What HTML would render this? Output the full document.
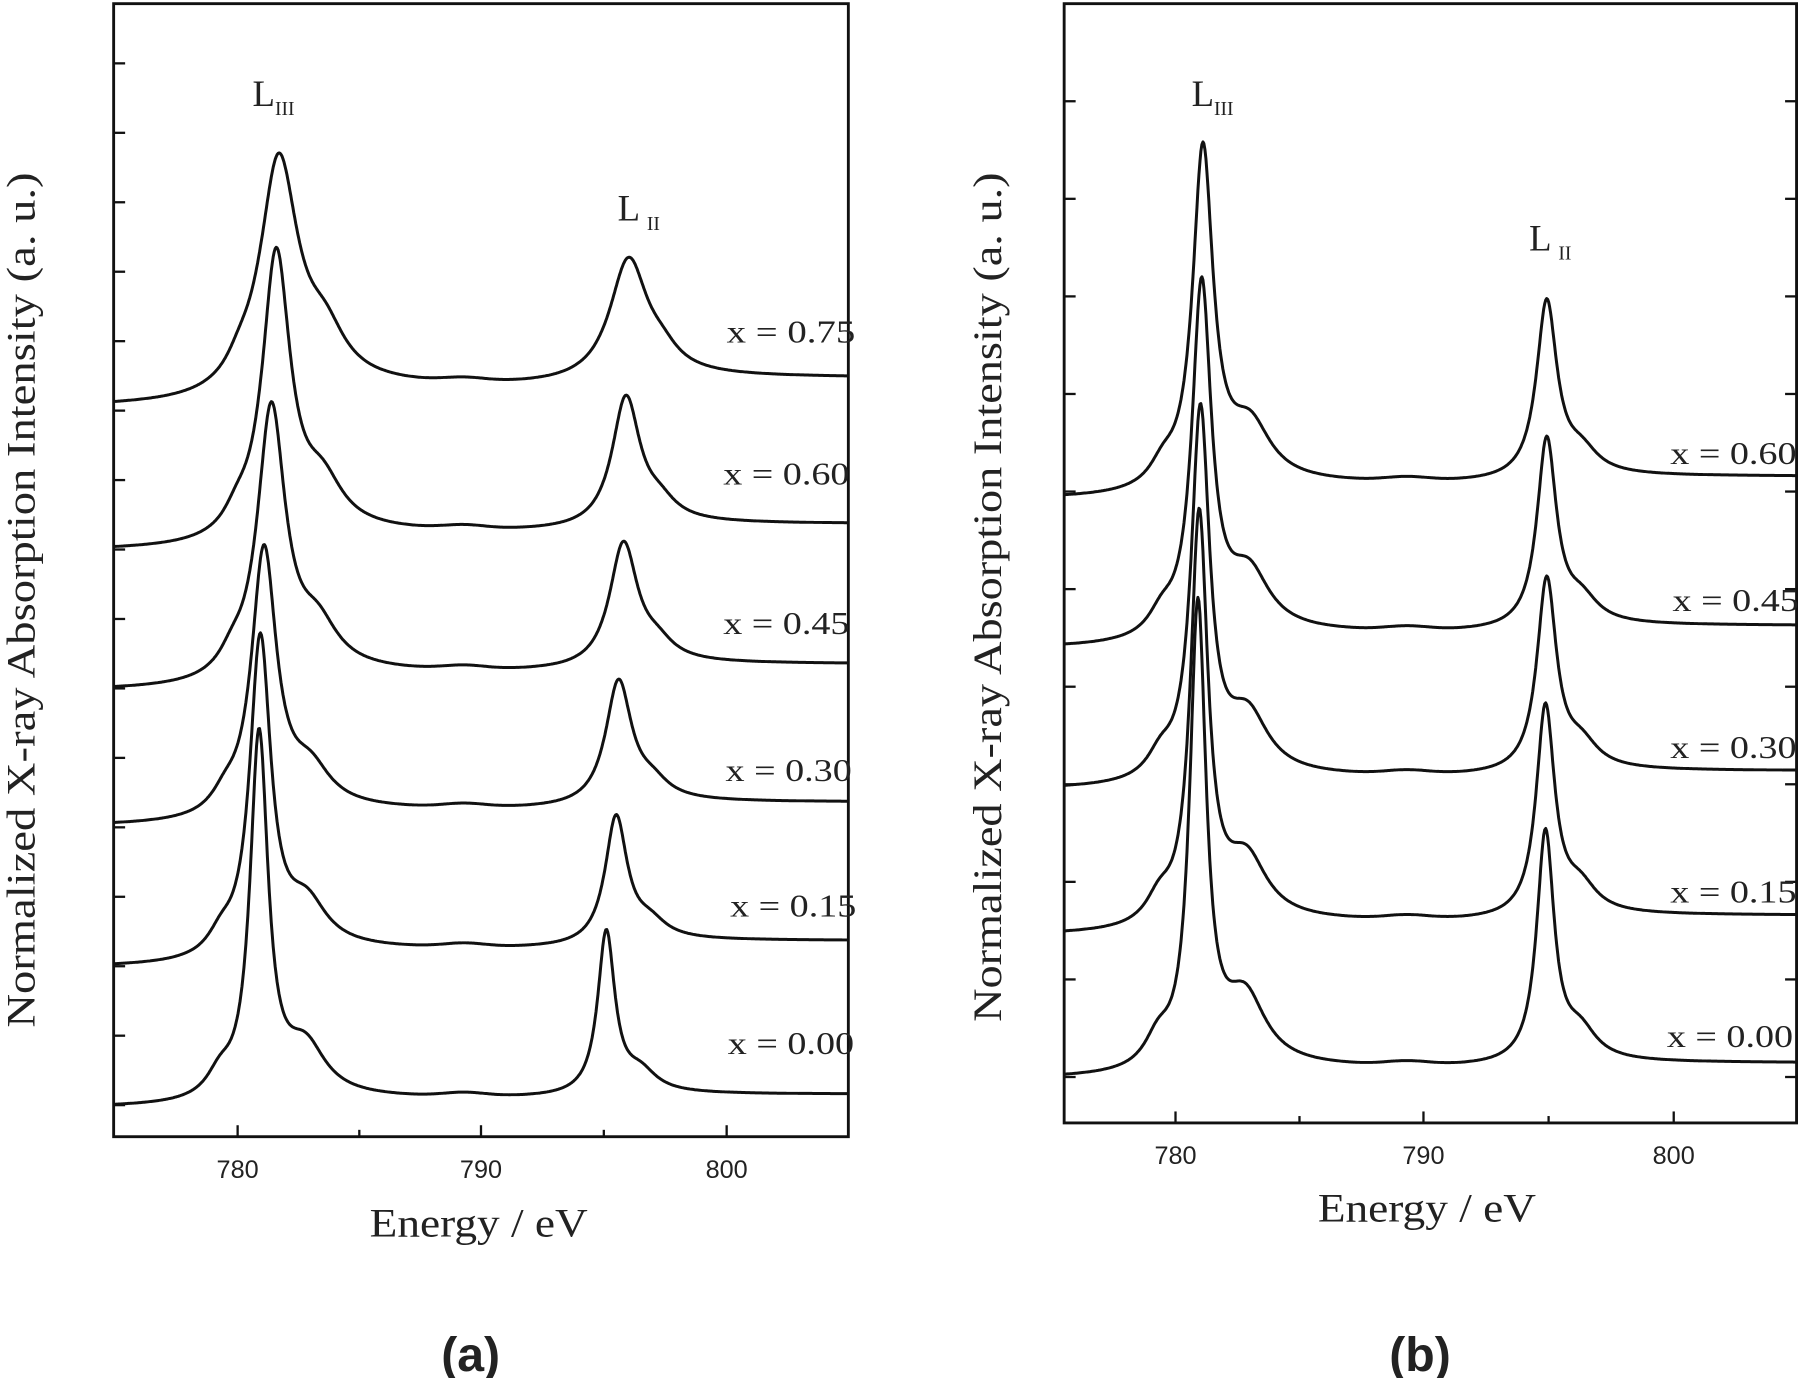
<!DOCTYPE html>
<html><head><meta charset="utf-8"><style>
html,body{margin:0;padding:0;background:#fff;}
svg{display:block;}
.t{font-family:"Liberation Serif",serif;fill:#222;}
.s{font-family:"Liberation Sans",sans-serif;fill:#222;}
</style></head><body>
<svg id="g" width="1800" height="1378" viewBox="0 0 1568 1200" xmlns="http://www.w3.org/2000/svg">
<rect width="1568" height="1200" fill="#fff"/>
<rect x="99" y="3" width="640" height="987" fill="none" stroke="#111" stroke-width="2.5"/>
<rect x="927" y="3" width="638" height="975" fill="none" stroke="#111" stroke-width="2.5"/>
<g id="ticks" stroke="#111" stroke-width="2"></g>
<g id="curves" fill="none" stroke="#111" stroke-width="2.6" stroke-linejoin="round"></g>

<g class="s" font-size="22" text-anchor="middle">
<text x="207" y="1026">780</text><text x="419" y="1026">790</text><text x="633" y="1026">800</text>
<text x="1024" y="1014">780</text><text x="1240" y="1014">790</text><text x="1458" y="1014">800</text>
</g>
<g class="t" font-size="35">
<text x="322" y="1077" textLength="190" lengthAdjust="spacingAndGlyphs">Energy / eV</text>
<text x="1148" y="1064" textLength="190" lengthAdjust="spacingAndGlyphs">Energy / eV</text>
<text transform="translate(30,895) rotate(-90)" font-size="35" textLength="745" lengthAdjust="spacingAndGlyphs">Normalized X-ray Absorption Intensity (a. u.)</text>
<text transform="translate(872,890) rotate(-90)" font-size="35" textLength="740" lengthAdjust="spacingAndGlyphs">Normalized X-ray Absorption Intensity (a. u.)</text>
</g>
<g class="t" font-size="32">
<text x="220" y="92">L<tspan font-size="17" dy="8">III</tspan></text>
<text x="538" y="192">L<tspan font-size="17" dy="8" dx="6">II</tspan></text>
<text x="1038" y="92">L<tspan font-size="17" dy="8">III</tspan></text>
<text x="1332" y="218">L<tspan font-size="17" dy="8" dx="6">II</tspan></text>
</g>
<g class="t" font-size="28">
<text x="633" y="298" textLength="112" lengthAdjust="spacingAndGlyphs">x = 0.75</text>
<text x="630" y="422" textLength="110" lengthAdjust="spacingAndGlyphs">x = 0.60</text>
<text x="630" y="552" textLength="110" lengthAdjust="spacingAndGlyphs">x = 0.45</text>
<text x="632" y="680" textLength="110" lengthAdjust="spacingAndGlyphs">x = 0.30</text>
<text x="636" y="798" textLength="110" lengthAdjust="spacingAndGlyphs">x = 0.15</text>
<text x="634" y="918" textLength="110" lengthAdjust="spacingAndGlyphs">x = 0.00</text>
<text x="1455" y="404" textLength="110" lengthAdjust="spacingAndGlyphs">x = 0.60</text>
<text x="1457" y="532" textLength="110" lengthAdjust="spacingAndGlyphs">x = 0.45</text>
<text x="1455" y="660" textLength="110" lengthAdjust="spacingAndGlyphs">x = 0.30</text>
<text x="1455" y="786" textLength="110" lengthAdjust="spacingAndGlyphs">x = 0.15</text>
<text x="1452" y="912" textLength="110" lengthAdjust="spacingAndGlyphs">x = 0.00</text>
</g>
<g class="s" font-size="42" font-weight="bold" text-anchor="middle">
<text x="410" y="1194">(a)</text>
<text x="1237" y="1194">(b)</text>
</g>
</svg>
<script>
var NS="http://www.w3.org/2000/svg";
var tg=document.getElementById('ticks'),cg=document.getElementById('curves');
function line(x1,y1,x2,y2){var l=document.createElementNS(NS,'line');l.setAttribute('x1',x1);l.setAttribute('y1',y1);l.setAttribute('x2',x2);l.setAttribute('y2',y2);tg.appendChild(l);}
for(var y=55;y<990;y+=60.5) line(99,y,109,y);
[207,419,633].forEach(function(x){line(x,990,x,980);});
[313,526].forEach(function(x){line(x,990,x,984);});
for(var y=88;y<978;y+=85) {line(927,y,937,y);line(1565,y,1555,y);}
[1024,1240,1458].forEach(function(x){line(x,978,x,968);});
[1132,1349].forEach(function(x){line(x,978,x,972);});
function L(E,c,w){var d=(E-c)/(w/2);return 1/(1+d*d);}
function curve(xmap,x0,x1,B,H3,E3,w3,H2,E2,w2,step,sh){
 var d='';
 for(var E=x0;E<=x1;E+=0.04){
  var v=H3*(L(E,E3,w3)+0.13*L(E,E3+1.9,2.0)*sh+0.06*L(E,E3-1.6,1.3))
   +H2*(L(E,E2,w2)+0.12*L(E,E2+1.4,1.6))
   +step*(0.5+Math.atan((E-E3-0.5)/0.6)/Math.PI)*0.8+step*0.4*(0.5+Math.atan((E-E2)/0.6)/Math.PI)
   +3*Math.exp(-Math.pow((E-789.3)/1.2,2));
  var X=xmap(E),Y=B-v;
  d+=(d?'L':'M')+X.toFixed(1)+' '+Y.toFixed(1);
 }
 var p=document.createElementNS(NS,'path');p.setAttribute('d',d);cg.appendChild(p);
}
var xa=function(E){return 100+(E-775)*21.3;};
var xb=function(E){return 1024+(E-780)*21.7;};
var A=[[355,212,781.7,1.9,110,796.0,1.9,22,1.3],
[480,255,781.6,1.4,117,795.9,1.4,20,1.1],
[602,243,781.4,1.4,112,795.8,1.4,20,1.1],
[720,238,781.1,1.25,112,795.6,1.3,18,1.0],
[843,282,780.95,1.05,115,795.5,1.1,20,1.0],
[965,322,780.9,0.9,146,795.1,0.85,10,1.0]];
A.forEach(function(a){curve(xa,775,805,a[0],a[1]-5,a[2],a[3],a[4]-5,a[5],a[6],a[7],a[8]);});
var Bp=[[435,300,781.1,1.0,158,794.9,1.0,17,1.2],
[565,312,781.05,0.95,168,794.9,0.95,17,1.2],
[688,325,781.0,0.9,172,794.9,0.95,14,1.2],
[815,360,780.95,0.85,187,794.85,0.9,15,1.1],
[940,406,780.9,0.8,205,794.85,0.85,12,1.1]];
Bp.forEach(function(a){curve(xb,775.5,805,a[0],a[1]-5,a[2],a[3],a[4]-5,a[5],a[6],a[7],a[8]);});
</script>
</body></html>
